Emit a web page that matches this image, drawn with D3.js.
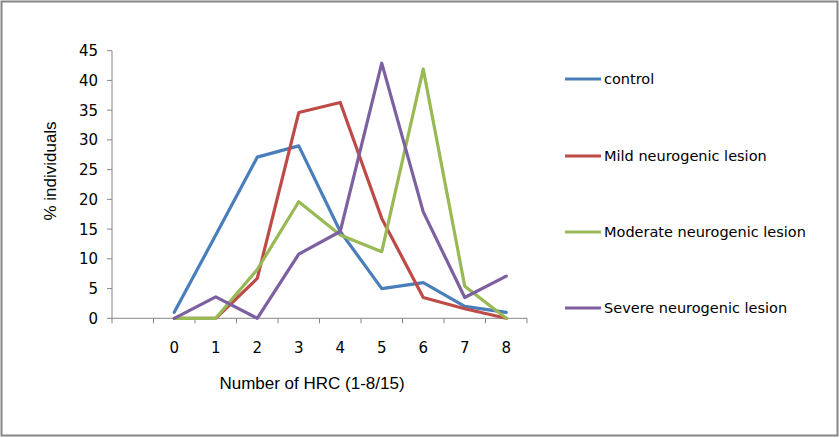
<!DOCTYPE html>
<html>
<head>
<meta charset="utf-8">
<script src="https://cdn.jsdelivr.net/npm/d3@7"></script>
<style>
  body { margin: 0; background: #fff; }
  svg { display: block; }
</style>
</head>
<body>
<svg id="chart" width="840" height="438"></svg>
<script>
// categories (first slot left blank, as in the original sheet)
const categories = ["", "0", "1", "2", "3", "4", "5", "6", "7", "8"];
const yTicks = [0, 5, 10, 15, 20, 25, 30, 35, 40, 45];

const control  = [1, 14, 27.1, 29, 14.6, 5, 6, 2, 1];
const mild     = [0, 0, 6.7, 34.6, 36.3, 16.8, 3.5, 1.6, 0];
const moderate = [0, 0, 8.2, 19.6, 14, 11.2, 41.9, 5.4, 0];
const severe   = [0, 3.6, 0, 10.8, 14.6, 42.9, 17.9, 3.5, 7.1];

const seriesNames  = ["control", "Mild neurogenic lesion", "Moderate neurogenic lesion", "Severe neurogenic lesion"];
const seriesColors = ["#4a7ebb", "#be4b48", "#98b954", "#7d60a0"];
const seriesData   = [control, mild, moderate, severe];

const svg = d3.select("#chart");
const axisColor = "#868686";
const tickFont = "'DejaVu Sans', sans-serif";
const titleFont = "'Liberation Sans', Arial, sans-serif";

// outer border
svg.append("rect")
  .attr("x", 1.5).attr("y", 1.5)
  .attr("width", 836).attr("height", 434)
  .attr("fill", "none").attr("stroke", axisColor).attr("stroke-width", 2);

const x = d3.scaleBand().domain(categories).range([112, 527]).padding(0);
const y = d3.scaleLinear().domain([0, 45]).range([318.3, 50.7]);
const cx = c => x(c) + x.bandwidth() / 2;

// y axis
svg.append("line")
  .attr("x1", 112).attr("x2", 112).attr("y1", y(45)).attr("y2", y(0))
  .attr("stroke", axisColor).attr("stroke-width", 1);
svg.selectAll(".ytick").data(yTicks).enter().append("line")
  .attr("x1", 107).attr("x2", 112)
  .attr("y1", d => y(d)).attr("y2", d => y(d))
  .attr("stroke", axisColor);
svg.selectAll(".ylab").data(yTicks).enter().append("text")
  .attr("x", 98).attr("y", d => y(d))
  .attr("dy", "0.36em")
  .attr("text-anchor", "end")
  .style("font-family", tickFont).style("font-size", "15px").attr("fill", "#000")
  .text(d => d);

// x axis
svg.append("line")
  .attr("x1", 112).attr("x2", 527).attr("y1", y(0)).attr("y2", y(0))
  .attr("stroke", axisColor);
const edges = categories.map(c => x(c)).concat([x(categories[categories.length - 1]) + x.bandwidth()]);
svg.selectAll(".xtick").data(edges).enter().append("line")
  .attr("x1", d => d).attr("x2", d => d)
  .attr("y1", y(0)).attr("y2", y(0) + 5)
  .attr("stroke", axisColor);
svg.selectAll(".xlab").data(categories).enter().append("text")
  .attr("x", d => cx(d)).attr("y", 348)
  .attr("dy", "0.36em")
  .attr("text-anchor", "middle")
  .style("font-family", tickFont).style("font-size", "15px")
  .text(d => d);

// axis titles
svg.append("text")
  .attr("x", 312).attr("y", 383).attr("dy", "0.36em")
  .attr("text-anchor", "middle")
  .style("font-family", titleFont).style("font-size", "17px")
  .text("Number of HRC (1-8/15)");
svg.append("text")
  .attr("transform", "translate(50,171) rotate(-90)")
  .attr("dy", "0.36em")
  .attr("text-anchor", "middle")
  .style("font-family", titleFont).style("font-size", "17px")
  .text("% individuals");

// lines
const line = d3.line()
  .x((d, i) => cx(categories[i + 1]))
  .y(d => y(d));
seriesData.forEach((vals, k) => {
  svg.append("path")
    .datum(vals)
    .attr("d", line)
    .attr("fill", "none")
    .attr("stroke", seriesColors[k])
    .attr("stroke-width", 3.2)
    .attr("stroke-linejoin", "round")
    .attr("stroke-linecap", "round");
});

// legend
const legendY = [79, 156, 232, 308];
seriesNames.forEach((name, k) => {
  svg.append("line")
    .attr("x1", 565).attr("x2", 601)
    .attr("y1", legendY[k]).attr("y2", legendY[k])
    .attr("stroke", seriesColors[k]).attr("stroke-width", 3);
  svg.append("text")
    .attr("x", 604).attr("y", legendY[k]).attr("dy", "0.36em")
    .style("font-family", tickFont).style("font-size", "14.5px")
    .text(name);
});
</script>
</body>
</html>
